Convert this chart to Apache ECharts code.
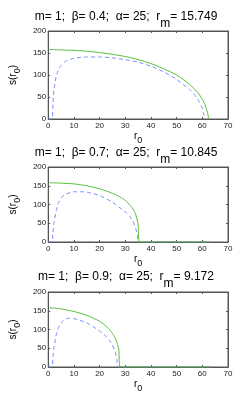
<!DOCTYPE html>
<html><head><meta charset="utf-8">
<script src="https://cdn.jsdelivr.net/npm/echarts@6/dist/echarts.min.js"></script>
<style>html,body{margin:0;padding:0;background:#fff}#c{width:252px;height:414px}</style>
</head><body><div id="c"></div>
<script>
// ---- data ----
const titles = [
  ['m= 1;  \u03b2= 0.4;  \u03b1= 25;  r', 'm', '= 15.749'],
  ['m= 1;  \u03b2= 0.7;  \u03b1= 25;  r', 'm', '= 10.845'],
  ['m= 1;  \u03b2= 0.9;  \u03b1= 25;  r', 'm', '= 9.172']
];
const xTicks = [0, 10, 20, 30, 40, 50, 60, 70];
const yTicks = [0, 50, 100, 150, 200];

const rGreen1 = [0.5, 5, 10, 15, 20, 25, 30, 35, 40, 45, 50, 55, 58, 60, 61, 62, 62.5];
const sGreen1 = [158, 157, 156, 154, 151, 147, 142, 135, 126, 114, 100, 79, 62, 45, 33, 15, 0];
const rBlue1 = [0, 1.5, 1.8, 2.2, 3, 4, 5, 7, 10, 15, 20, 25, 30, 35, 40, 45, 50, 55, 58, 60, 60.5, 61];
const sBlue1 = [0, 0, 35, 65, 95, 112, 122, 132, 138, 141, 141, 139, 135, 129, 120, 107, 90, 67, 47, 25, 12, 0];

const rGreen2 = [0.5, 5, 10, 15, 20, 25, 28, 30, 32, 33, 34, 35, 35.5, 63];
const sGreen2 = [158, 157, 155, 150, 142, 130, 120, 111, 97, 88, 75, 47, 0, 0];
const rBlue2 = [0, 1.5, 1.8, 2.2, 3, 4, 5, 7, 10, 13, 15, 20, 25, 30, 32, 33, 34, 34.7, 35, 63];
const sBlue2 = [0, 0, 25, 50, 80, 105, 118, 128, 134, 134, 133, 124, 106, 80, 66, 55, 37, 18, 0, 0];

const rGreen3 = [0.5, 5, 10, 15, 20, 22, 24, 25, 26, 27, 27.5, 28, 63];
const sGreen3 = [158, 155, 148, 138, 122, 112, 99, 89, 78, 60, 45, 0, 0];
const rBlue3 = [0, 1.5, 1.8, 2.2, 3, 4, 5, 6, 8, 10, 12, 15, 20, 22, 24, 25, 26, 26.7, 27, 63];
const sBlue3 = [0, 0, 25, 50, 82, 105, 118, 125, 130, 129, 125, 118, 96, 85, 69, 58, 42, 20, 0, 0];

const greens = [[rGreen1, sGreen1], [rGreen2, sGreen2], [rGreen3, sGreen3]];
const blues = [[rBlue1, sBlue1], [rBlue2, sBlue2], [rBlue3, sBlue3]];

// ---- layout ----
const FONT = 'Liberation Sans';
const grids = [
  {left: 33, width: 195, top: 31, height: 88},
  {left: 33, width: 195, top: 167, height: 75},
  {left: 33, width: 195, top: 292, height: 75}
];
const titleTops = [4, 140, 264];
const GREEN = '#55c03a';
const BLUE = '#7d8cff';
const AX = '#555';

const zip = (a, b) => a.map((v, i) => [v, b[i]]);

const option = {
  animation: false,
  backgroundColor: '#fff',
  title: titles.map((t, i) => ({
    text: '{a|' + t[0] + '}{s|' + t[1] + '}{a|' + t[2] + '}',
    left: 'center', top: titleTops[i], padding: 0,
    textStyle: {
      fontWeight: 'normal',
      rich: {
        a: {fontFamily: FONT, fontSize: 12, fontWeight: 'normal', color: '#000'},
        s: {fontFamily: FONT, fontSize: 12, fontWeight: 'normal', color: '#000', padding: [14, 0, 0, 0]}
      }
    }
  })),
  grid: grids.map(g => Object.assign({show: true, borderColor: AX, borderWidth: 1, backgroundColor: '#fff'}, g)),
  xAxis: [],
  yAxis: [],
  series: []
};

for (let i = 0; i < 3; i++) {
  option.xAxis.push({
    type: 'value', gridIndex: i, min: xTicks[0], max: xTicks[xTicks.length - 1], interval: 10,
    position: 'bottom',
    name: 'r{s|0}', nameLocation: 'middle', nameGap: 8,
    nameTextStyle: {fontFamily: FONT, fontSize: 10, color: '#000',
      rich: {s: {fontFamily: FONT, fontSize: 9, color: '#000', padding: [9, 0, 0, 0]}}},
    axisLine: {show: true, onZero: false, lineStyle: {color: AX, width: 1}},
    axisTick: {show: true, inside: true, length: 2, lineStyle: {color: AX}},
    axisLabel: {fontFamily: FONT, fontSize: 8, color: '#222', margin: 3},
    splitLine: {show: false}
  });
  option.xAxis.push({
    type: 'value', gridIndex: i, min: 0, max: 70, interval: 10, position: 'top',
    axisLine: {show: true, onZero: false, lineStyle: {color: AX, width: 1}},
    axisTick: {show: true, inside: true, length: 2, lineStyle: {color: AX}},
    axisLabel: {show: false}, splitLine: {show: false}
  });
  option.yAxis.push({
    type: 'value', gridIndex: i, min: yTicks[0], max: yTicks[yTicks.length - 1], interval: 50,
    position: 'left',
    name: 's(r{s|0})', nameLocation: 'middle', nameGap: 18, nameRotate: 90,
    nameTextStyle: {fontFamily: FONT, fontSize: 10, color: '#000',
      rich: {s: {fontFamily: FONT, fontSize: 9, color: '#000', padding: [9, 0, 0, 0]}}},
    axisLine: {show: true, onZero: false, lineStyle: {color: AX, width: 1}},
    axisTick: {show: true, inside: true, length: 2, lineStyle: {color: AX}},
    axisLabel: {fontFamily: FONT, fontSize: 8, color: '#222', margin: 2},
    splitLine: {show: false}
  });
  option.yAxis.push({
    type: 'value', gridIndex: i, min: 0, max: 200, interval: 50, position: 'right',
    axisLine: {show: true, onZero: false, lineStyle: {color: AX, width: 1}},
    axisTick: {show: true, inside: true, length: 2, lineStyle: {color: AX}},
    axisLabel: {show: false}, splitLine: {show: false}
  });
  option.series.push({
    type: 'line', xAxisIndex: 2 * i, yAxisIndex: 2 * i, data: zip(blues[i][0], blues[i][1]),
    showSymbol: false, smooth: 0.2, lineStyle: {color: BLUE, width: 1, type: [4, 3]}, z: 3
  });
  option.series.push({
    type: 'line', xAxisIndex: 2 * i, yAxisIndex: 2 * i, data: zip(greens[i][0], greens[i][1]),
    showSymbol: false, smooth: 0.2, lineStyle: {color: GREEN, width: 1}, z: 4
  });
}

const chart = echarts.init(document.getElementById('c'), null, {renderer: 'canvas'});
chart.setOption(option);
</script></body></html>
